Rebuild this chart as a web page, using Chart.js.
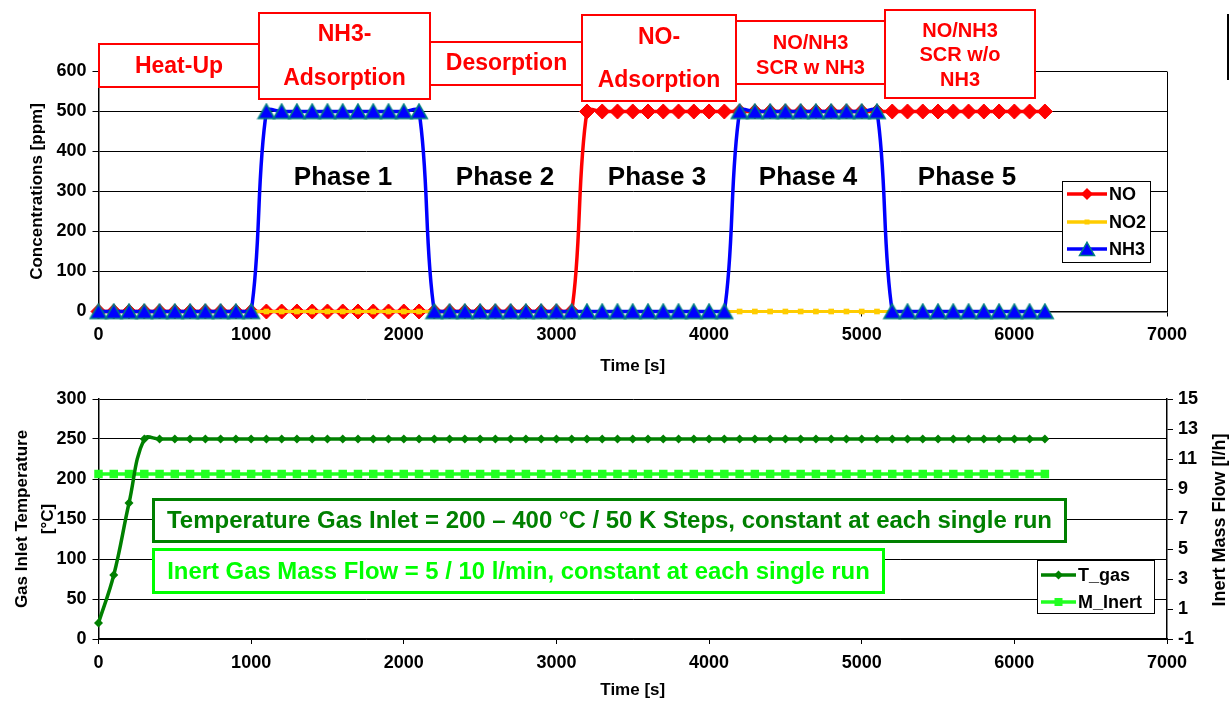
<!DOCTYPE html>
<html>
<head>
<meta charset="utf-8">
<script src="https://cdn.jsdelivr.net/npm/chart.js@4.4.1/dist/chart.umd.min.js"></script>
<style>
    body { margin: 0; background: #fff; }
    #wrap { position: relative; width: 1231px; height: 707px; overflow: hidden; }
    #concChart { position: absolute; left: 0; top: 0; }
    #tempChart { position: absolute; left: 0; top: 380px; }
</style>
</head>
<body>
<div id="wrap">
    <canvas id="concChart" width="1231" height="380"></canvas>
    <canvas id="tempChart" width="1231" height="327"></canvas>
</div>
<script>
// Time samples [s] - one marker every 100 s
const timeSec = [
    0, 100, 200, 300, 400, 500, 600, 700, 800, 900,
    1000, 1100, 1200, 1300, 1400, 1500, 1600, 1700, 1800, 1900,
    2000, 2100, 2200, 2300, 2400, 2500, 2600, 2700, 2800, 2900,
    3000, 3100, 3200, 3300, 3400, 3500, 3600, 3700, 3800, 3900,
    4000, 4100, 4200, 4300, 4400, 4500, 4600, 4700, 4800, 4900,
    5000, 5100, 5200, 5300, 5400, 5500, 5600, 5700, 5800, 5900,
    6000, 6100, 6200
];

// Concentrations [ppm]
const noPpm = [
    0, 0, 0, 0, 0, 0, 0, 0, 0, 0,
    0, 0, 0, 0, 0, 0, 0, 0, 0, 0,
    0, 0, 0, 0, 0, 0, 0, 0, 0, 0,
    0, 0, 500, 500, 500, 500, 500, 500, 500, 500,
    500, 500, 500, 500, 500, 500, 500, 500, 500, 500,
    500, 500, 500, 500, 500, 500, 500, 500, 500, 500,
    500, 500, 500
];
const no2Ppm = [
    0, 0, 0, 0, 0, 0, 0, 0, 0, 0,
    0, 0, 0, 0, 0, 0, 0, 0, 0, 0,
    0, 0, 0, 0, 0, 0, 0, 0, 0, 0,
    0, 0, 0, 0, 0, 0, 0, 0, 0, 0,
    0, 0, 0, 0, 0, 0, 0, 0, 0, 0,
    0, 0, 0, 0, 0, 0, 0, 0, 0, 0,
    0, 0, 0
];
const nh3Ppm = [
    0, 0, 0, 0, 0, 0, 0, 0, 0, 0,
    0, 500, 500, 500, 500, 500, 500, 500, 500, 500,
    500, 500, 0, 0, 0, 0, 0, 0, 0, 0,
    0, 0, 0, 0, 0, 0, 0, 0, 0, 0,
    0, 0, 500, 500, 500, 500, 500, 500, 500, 500,
    500, 500, 0, 0, 0, 0, 0, 0, 0, 0,
    0, 0, 0
];

// Gas inlet temperature [°C] and inert mass flow [l/h]
const tGas = [
    20, 80, 170, 250, 250, 250, 250, 250, 250, 250,
    250, 250, 250, 250, 250, 250, 250, 250, 250, 250,
    250, 250, 250, 250, 250, 250, 250, 250, 250, 250,
    250, 250, 250, 250, 250, 250, 250, 250, 250, 250,
    250, 250, 250, 250, 250, 250, 250, 250, 250, 250,
    250, 250, 250, 250, 250, 250, 250, 250, 250, 250,
    250, 250, 250
];
const mInert = [
    10, 10, 10, 10, 10, 10, 10, 10, 10, 10,
    10, 10, 10, 10, 10, 10, 10, 10, 10, 10,
    10, 10, 10, 10, 10, 10, 10, 10, 10, 10,
    10, 10, 10, 10, 10, 10, 10, 10, 10, 10,
    10, 10, 10, 10, 10, 10, 10, 10, 10, 10,
    10, 10, 10, 10, 10, 10, 10, 10, 10, 10,
    10, 10, 10
];

// Tick labels
const timeTicks = [0, 1000, 2000, 3000, 4000, 5000, 6000, 7000];
const concTicks = [0, 100, 200, 300, 400, 500, 600];
const tempTicks = [0, 50, 100, 150, 200, 250, 300];
const flowTicks = [-1, 1, 3, 5, 7, 9, 11, 13, 15];

const FONT = "'Liberation Sans', Arial, sans-serif";
Chart.defaults.font.family = FONT;
Chart.defaults.font.size = 17;
Chart.defaults.font.weight = 'bold';
Chart.defaults.color = '#000';
const tickFont = { size: 18, weight: 'bold' };

function pts(values) {
    return timeSec.map((t, i) => ({ x: t, y: values[i] }));
}

function fixedTicks(list) {
    return function (scale) {
        scale.ticks = list.map(v => ({ value: v }));
    };
}

// plain numbers, no thousands separator
const plainLabel = v => String(v);

// small marker painter, used for the legends and the NH3 point image
function drawMarker(ctx, style, x, y, r, fill, stroke, lw) {
    ctx.beginPath();
    if (style === 'diamond') {
        ctx.moveTo(x - r, y); ctx.lineTo(x, y - r); ctx.lineTo(x + r, y); ctx.lineTo(x, y + r);
    } else if (style === 'square') {
        ctx.rect(x - r, y - r, 2 * r, 2 * r);
    } else if (style === 'triangle') {
        ctx.moveTo(x, y - r * 0.9); ctx.lineTo(x + r, y + r * 0.85); ctx.lineTo(x - r, y + r * 0.85);
    }
    ctx.closePath();
    ctx.fillStyle = fill;
    ctx.fill();
    if (stroke) {
        ctx.strokeStyle = stroke;
        ctx.lineWidth = lw;
        ctx.stroke();
    }
}

// Excel style triangle: centred on the value, not on its circumcircle
const triMarker = document.createElement('canvas');
triMarker.width = 20;
triMarker.height = 18;
drawMarker(triMarker.getContext('2d'), 'triangle', 10, 9, 8.3, '#0000FF', '#008080', 1.5);

function drawLegend(ctx, box, rows) {
    ctx.save();
    ctx.fillStyle = '#fff';
    ctx.fillRect(box[0], box[1], box[2] - box[0], box[3] - box[1]);
    ctx.strokeStyle = '#000';
    ctx.lineWidth = 1;
    ctx.strokeRect(box[0] + 0.5, box[1] + 0.5, box[2] - box[0], box[3] - box[1]);
    rows.forEach(r => {
        ctx.strokeStyle = r.color;
        ctx.lineWidth = 3.5;
        ctx.beginPath();
        ctx.moveTo(r.x0, r.y);
        ctx.lineTo(r.x1, r.y);
        ctx.stroke();
        drawMarker(ctx, r.marker, (r.x0 + r.x1) / 2, r.y, r.size, r.fill || r.color, r.stroke, 1.5);
        ctx.fillStyle = '#000';
        ctx.font = 'bold 18px ' + FONT;
        ctx.textAlign = 'left';
        ctx.textBaseline = 'middle';
        ctx.fillText(r.label, r.x1 + 2, r.y + 1);
    });
    ctx.restore();
}

// Phase headers (red boxes) and phase numbers of the top chart
const phaseBoxes = [
    { box: [99, 44, 259, 87], lines: ['Heat-Up'], ys: [66], size: 23 },
    { box: [259, 13, 430, 99], lines: ['NH3-', 'Adsorption'], ys: [34, 78], size: 23 },
    { box: [430, 42, 583, 85], lines: ['Desorption'], ys: [63], size: 23 },
    { box: [582, 15, 736, 101], lines: ['NO-', 'Adsorption'], ys: [37, 80], size: 23 },
    { box: [736, 21, 885, 84], lines: ['NO/NH3', 'SCR w NH3'], ys: [42, 67], size: 20 },
    { box: [885, 10, 1035, 98], lines: ['NO/NH3', 'SCR w/o', 'NH3'], ys: [30, 54, 79], size: 20 }
];
const phaseLabels = [
    { text: 'Phase 1', x: 343 },
    { text: 'Phase 2', x: 505 },
    { text: 'Phase 3', x: 657 },
    { text: 'Phase 4', x: 808 },
    { text: 'Phase 5', x: 967 }
];

const concDecor = {
    id: 'concDecor',
    afterDraw(chart) {
        const ctx = chart.ctx;
        const a = chart.chartArea;
        ctx.save();
        // plot area border on the right
        ctx.strokeStyle = '#000';
        ctx.lineWidth = 1;
        ctx.beginPath();
        ctx.moveTo(a.right + 0.5, a.top);
        ctx.lineTo(a.right + 0.5, a.bottom);
        ctx.stroke();

        ctx.font = 'bold 26px ' + FONT;
        ctx.fillStyle = '#000';
        ctx.textAlign = 'center';
        ctx.textBaseline = 'middle';
        phaseLabels.forEach(p => ctx.fillText(p.text, p.x, 178));

        phaseBoxes.forEach(b => {
            const [x0, y0, x1, y1] = b.box;
            ctx.fillStyle = '#fff';
            ctx.fillRect(x0, y0, x1 - x0, y1 - y0);
            ctx.strokeStyle = '#FF0000';
            ctx.lineWidth = 2;
            ctx.strokeRect(x0, y0, x1 - x0, y1 - y0);
            ctx.fillStyle = '#FF0000';
            ctx.font = 'bold ' + b.size + 'px ' + FONT;
            b.lines.forEach((t, i) => ctx.fillText(t, (x0 + x1) / 2, b.ys[i] + 1));
        });

        // stray frame edge at the far right
        ctx.strokeStyle = '#000';
        ctx.lineWidth = 2;
        ctx.beginPath();
        ctx.moveTo(1228, 14);
        ctx.lineTo(1228, 80);
        ctx.stroke();
        ctx.restore();

        drawLegend(ctx, [1062, 181, 1150, 262], [
            { label: 'NO', color: '#FF0000', marker: 'diamond', size: 6, x0: 1067, x1: 1107, y: 194 },
            { label: 'NO2', color: '#FFCC00', marker: 'square', size: 2.5, x0: 1067, x1: 1107, y: 222 },
            { label: 'NH3', color: '#0000FF', marker: 'triangle', size: 7.5, stroke: '#008080', x0: 1067, x1: 1107, y: 249 }
        ]);
    }
};

// Info boxes of the bottom chart
const infoBoxes = [
    { box: [152, 118, 1067, 163], text: 'Temperature Gas Inlet = 200 \u2013 400 \u00b0C / 50 K Steps, constant at each single run', width: 885, color: '#008000' },
    { box: [152, 168, 885, 214], text: 'Inert Gas Mass Flow = 5 / 10 l/min, constant at each single run', width: 703, color: '#00FF00' }
];

const tempDecor = {
    id: 'tempDecor',
    afterDraw(chart) {
        const ctx = chart.ctx;
        ctx.save();
        infoBoxes.forEach(b => {
            const [x0, y0, x1, y1] = b.box;
            ctx.fillStyle = '#fff';
            ctx.fillRect(x0, y0, x1 - x0, y1 - y0);
            ctx.strokeStyle = b.color;
            ctx.lineWidth = 3;
            ctx.strokeRect(x0 + 1.5, y0 + 1.5, x1 - x0 - 3, y1 - y0 - 3);
            ctx.font = 'bold 22px ' + FONT;
            const size = 22 * b.width / ctx.measureText(b.text).width;
            ctx.font = 'bold ' + size.toFixed(2) + 'px ' + FONT;
            ctx.fillStyle = b.color;
            ctx.textAlign = 'center';
            ctx.textBaseline = 'middle';
            ctx.fillText(b.text, (x0 + x1) / 2, (y0 + y1) / 2 + 1);
        });

        // right axis title, reading bottom to top
        ctx.translate(1220, 140);
        ctx.rotate(-Math.PI / 2);
        ctx.fillStyle = '#000';
        ctx.font = 'bold 18px ' + FONT;
        ctx.textAlign = 'center';
        ctx.textBaseline = 'middle';
        ctx.fillText('Inert Mass Flow [l/h]', 0, 0);
        ctx.restore();

        drawLegend(ctx, [1037, 180, 1154, 233], [
            { label: 'T_gas', color: '#008000', marker: 'diamond', size: 4.5, x0: 1041, x1: 1076, y: 195 },
            { label: 'M_Inert', color: '#22FF22', marker: 'square', size: 4, x0: 1041, x1: 1076, y: 222 }
        ]);
    }
};

// Concentrations over time
new Chart(document.getElementById('concChart'), {
    type: 'line',
    data: {
        datasets: [{
            label: 'NO',
            data: pts(noPpm),
            borderColor: '#FF0000',
            backgroundColor: '#FF0000',
            borderWidth: 3.5,
            pointStyle: 'rectRot',
            pointRadius: 7.5,
            pointBorderColor: '#FF0000',
            pointBorderWidth: 1,
            order: 3
        }, {
            label: 'NO2',
            data: pts(no2Ppm),
            borderColor: '#FFCC00',
            backgroundColor: '#FFCC00',
            borderWidth: 3,
            pointStyle: 'rect',
            pointRadius: 4,
            pointBorderWidth: 0,
            order: 2
        }, {
            label: 'NH3',
            data: pts(nh3Ppm),
            borderColor: '#0000FF',
            backgroundColor: '#0000FF',
            borderWidth: 3.5,
            pointStyle: triMarker,
            pointRadius: 9,
            order: 1
        }]
    },
    options: {
        responsive: false,
        animation: false,
        clip: false,
        layout: { padding: { top: 71.5, right: 64, left: 0, bottom: 0 } },
        elements: { line: { tension: 0.35 } },
        plugins: {
            legend: { display: false },
            tooltip: { enabled: false }
        },
        scales: {
            x: {
                type: 'linear',
                min: timeTicks[0],
                max: timeTicks[timeTicks.length - 1],
                afterBuildTicks: fixedTicks(timeTicks),
                afterFit: s => { s.height = 68.5; },
                grid: { drawOnChartArea: false, color: '#000', tickLength: 5 },
                border: { color: '#000', width: 1.5 },
                ticks: { padding: 8, maxRotation: 0, autoSkip: false, callback: plainLabel, font: tickFont },
                title: { display: true, text: 'Time [s]', padding: { top: 0, bottom: 3 } }
            },
            y: {
                min: concTicks[0],
                max: concTicks[concTicks.length - 1],
                afterBuildTicks: fixedTicks(concTicks),
                afterFit: s => { s.width = 98.5; },
                grid: { color: '#000', lineWidth: 1, tickLength: 6 },
                border: { color: '#000', width: 1.5 },
                ticks: { padding: 6, callback: plainLabel, font: tickFont },
                title: { display: true, text: 'Concentrations [ppm]', padding: { top: 27, bottom: 0 } }
            }
        }
    },
    plugins: [concDecor]
});

// Gas inlet temperature and inert mass flow
new Chart(document.getElementById('tempChart'), {
    type: 'line',
    data: {
        datasets: [{
            label: 'T_gas',
            data: pts(tGas),
            yAxisID: 'y',
            borderColor: '#008000',
            backgroundColor: '#008000',
            borderWidth: 3.5,
            pointStyle: 'rectRot',
            pointRadius: 4.5,
            pointBorderWidth: 0
        }, {
            label: 'M_Inert',
            data: pts(mInert),
            yAxisID: 'y2',
            borderColor: '#22FF22',
            backgroundColor: '#22FF22',
            borderWidth: 3.5,
            pointStyle: 'rect',
            pointRadius: 6,
            pointBorderWidth: 0
        }]
    },
    options: {
        responsive: false,
        animation: false,
        clip: false,
        layout: { padding: { top: 19, right: 0, left: 0, bottom: 0 } },
        elements: { line: { tension: 0.4 } },
        plugins: {
            legend: { display: false },
            tooltip: { enabled: false }
        },
        scales: {
            x: {
                type: 'linear',
                min: timeTicks[0],
                max: timeTicks[timeTicks.length - 1],
                afterBuildTicks: fixedTicks(timeTicks),
                afterFit: s => { s.height = 68; },
                grid: { drawOnChartArea: false, color: '#000', tickLength: 5 },
                border: { color: '#000', width: 1.5 },
                ticks: { padding: 8, maxRotation: 0, autoSkip: false, callback: plainLabel, font: tickFont },
                title: { display: true, text: 'Time [s]', padding: { top: 0, bottom: 6 } }
            },
            y: {
                position: 'left',
                min: tempTicks[0],
                max: tempTicks[tempTicks.length - 1],
                afterBuildTicks: fixedTicks(tempTicks),
                afterFit: s => { s.width = 98.5; },
                grid: { color: '#000', lineWidth: 1, tickLength: 6 },
                border: { color: '#000', width: 1.5 },
                ticks: { padding: 6, callback: plainLabel, font: tickFont },
                title: {
                    display: true,
                    text: ['Gas Inlet Temperature', '[\u00b0C]'],
                    font: { lineHeight: 1.5 },
                    padding: { top: 10, bottom: 0 }
                }
            },
            y2: {
                position: 'right',
                min: flowTicks[0],
                max: flowTicks[flowTicks.length - 1],
                afterBuildTicks: fixedTicks(flowTicks),
                afterFit: s => { s.width = 64; },
                grid: { drawOnChartArea: false, color: '#000', tickLength: 6 },
                border: { color: '#000', width: 1.5 },
                ticks: { padding: 5, callback: plainLabel, font: tickFont }
            }
        }
    },
    plugins: [tempDecor]
});
</script>
</body>
</html>
